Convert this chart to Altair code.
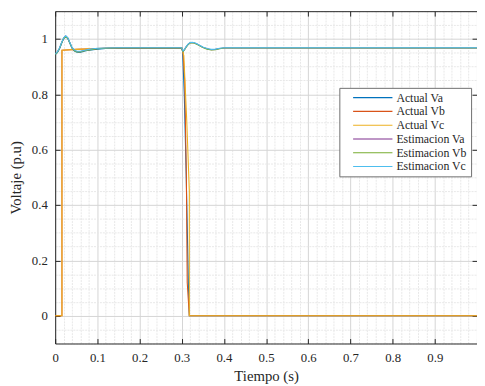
import altair as alt
import pandas as pd

# ---- data ----
names = ["Actual Va", "Actual Vb", "Actual Vc",
         "Estimacion Va", "Estimacion Vb", "Estimacion Vc"]
colors = ["#0072BD", "#D95319", "#EDB120", "#7E2F8E", "#77AC30", "#4DBEEE"]

est_t = [0, 0.005, 0.01, 0.015, 0.02, 0.025, 0.03, 0.035, 0.04, 0.045, 0.05,
         0.055, 0.06, 0.065, 0.07, 0.08, 0.09, 0.1, 0.12, 0.15, 0.2, 0.25, 0.3,
         0.303, 0.306, 0.31, 0.315, 0.32, 0.325, 0.33, 0.335, 0.34, 0.35, 0.36,
         0.37, 0.38, 0.39, 0.4, 0.5, 0.7, 1.0]
est_va = [0.945, 0.952, 0.965, 0.985, 1.003, 1.010, 1.003, 0.985, 0.968, 0.959,
          0.955, 0.954, 0.954, 0.956, 0.958, 0.961, 0.963, 0.965, 0.966, 0.967,
          0.967, 0.967, 0.967, 0.955, 0.960, 0.970, 0.980, 0.986, 0.987, 0.985,
          0.982, 0.978, 0.970, 0.964, 0.961, 0.962, 0.965, 0.967, 0.967, 0.967,
          0.967]
est_vb = [0.944, 0.951, 0.964, 0.984, 1.002, 1.009, 1.002, 0.984, 0.967, 0.958,
          0.954, 0.953, 0.953, 0.955, 0.957, 0.960, 0.962, 0.964, 0.966, 0.967,
          0.967, 0.967, 0.967, 0.954, 0.959, 0.969, 0.979, 0.985, 0.986, 0.984,
          0.981, 0.977, 0.969, 0.963, 0.960, 0.961, 0.964, 0.967, 0.967, 0.967,
          0.967]
est_vc = [0.946, 0.953, 0.966, 0.986, 1.004, 1.011, 1.004, 0.986, 0.969, 0.960,
          0.956, 0.955, 0.955, 0.957, 0.959, 0.962, 0.964, 0.966, 0.967, 0.968,
          0.968, 0.968, 0.968, 0.956, 0.961, 0.971, 0.981, 0.987, 0.988, 0.986,
          0.983, 0.979, 0.971, 0.965, 0.962, 0.963, 0.966, 0.968, 0.968, 0.968,
          0.968]

act_va_t = [0, 0.005, 0.01, 0.015, 0.02, 0.025, 0.03, 0.035, 0.04, 0.045, 0.05,
            0.055, 0.06, 0.065, 0.07, 0.08, 0.09, 0.1, 0.12, 0.15, 0.2, 0.25,
            0.3, 0.302, 0.306, 0.31, 0.314, 0.316, 0.318, 1.0]
act_va = [0.943, 0.950, 0.963, 0.983, 1.001, 1.008, 1.001, 0.983, 0.966, 0.957,
          0.953, 0.952, 0.952, 0.954, 0.956, 0.959, 0.961, 0.963, 0.965, 0.966,
          0.966, 0.966, 0.966, 0.955, 0.80, 0.55, 0.25, 0.10, 0.0, 0.0]

act_vb_t = [0, 0.016, 0.016, 0.05, 0.1, 0.15, 0.3, 0.303, 0.307, 0.311, 0.313,
            0.318, 1.0]
act_vb = [0, 0, 0.959, 0.962, 0.965, 0.967, 0.967, 0.95, 0.85, 0.50, 0.12, 0, 0]

act_vc_t = [0, 0.016, 0.016, 0.05, 0.1, 0.15, 0.3, 0.305, 0.312, 0.318, 0.318,
            1.0]
act_vc = [0, 0, 0.959, 0.962, 0.965, 0.967, 0.967, 0.94, 0.70, 0.45, 0, 0]

series_t = [act_va_t, act_vb_t, act_vc_t, est_t, est_t, est_t]
series_v = [act_va, act_vb, act_vc, est_va, est_vb, est_vc]

x_grid_vals = [round(i * 0.02, 2) for i in range(51)]
y_grid_vals = [round(-0.1 + i * 0.05, 2) for i in range(25)]
x_tick_vals = [round(i * 0.1, 1) for i in range(11)]
y_tick_vals = [round(i * 0.2, 1) for i in range(6)]

rows = []
for k, (name, ts, vs) in enumerate(zip(names, series_t, series_v)):
    for i, (t, v) in enumerate(zip(ts, vs)):
        rows.append({"t": t, "v": v, "serie": name, "i": i, "k": k})
df = pd.DataFrame(rows)

W, H = 429, 338
FONT = "Liberation Serif, Times New Roman, serif"
AX = "#262626"

xs = alt.Scale(domain=[0, 1], nice=False, zero=False)
ys = alt.Scale(domain=[-0.1, 1.1], nice=False, zero=False)

x_major = "abs(datum.value*10 - round(datum.value*10)) < 1e-6"
y_major = "abs(datum.value*5 - round(datum.value*5)) < 1e-6"

x_axis_main = alt.Axis(
    values=x_grid_vals, grid=True, ticks=False, domain=True, domainColor=AX,
    gridColor={"condition": {"test": x_major, "value": "#d4d4d4"}, "value": "#e8e8e8"},
    gridDash={"condition": {"test": x_major, "value": []}, "value": [2, 1]},
    labelExpr=f"({x_major}) && datum.value < 0.95 ? format(datum.value, '~g') : ''",
    labelFlush=False, labelPadding=8, labelFont=FONT, labelFontSize=13,
    labelColor=AX, labelOverlap=False,
    title="Tiempo (s)", titleFont=FONT, titleFontSize=15, titleFontWeight="normal",
    titleColor=AX, titlePadding=5)
y_axis_main = alt.Axis(
    values=y_grid_vals, grid=True, ticks=False, domain=True, domainColor=AX,
    gridColor={"condition": {"test": y_major, "value": "#d4d4d4"}, "value": "#e8e8e8"},
    gridDash={"condition": {"test": y_major, "value": []}, "value": [2, 1]},
    labelExpr=f"({y_major}) && datum.value > -0.05 ? format(datum.value, '~g') : ''",
    labelFlush=False, labelPadding=8, labelFont=FONT, labelFontSize=13,
    labelColor=AX, labelOverlap=False,
    title="Voltaje (p.u)", titleFont=FONT, titleFontSize=15, titleFontWeight="normal",
    titleColor=AX, titlePadding=8)

legend = alt.Legend(
    orient="none", legendX=289, legendY=78, title=None,
    symbolType="stroke", symbolSize=1600, symbolStrokeWidth=1.2, clipHeight=12,
    labelFont=FONT, labelFontSize=12, labelColor=AX, labelAlign="left",
    labelOffset=3, padding=4, symbolOffset=9, rowPadding=2,
    labelExpr="datum.label + '\u2003'",
    fillColor="white", strokeColor="#6e6e6e")

color_enc = alt.Color("serie:N", scale=alt.Scale(domain=names, range=colors),
                      sort=names, legend=legend)

layers = []
for idx, name in enumerate(names):
    layers.append(
        alt.Chart(df).transform_filter(alt.datum.serie == name)
        .mark_line(strokeWidth=1.1, clip=True).encode(
            x=alt.X("t:Q", scale=xs, axis=x_axis_main if idx == 0 else None),
            y=alt.Y("v:Q", scale=ys, axis=y_axis_main if idx == 0 else None),
            color=color_enc,
            order="i:Q",
        )
    )

# inward tick marks: bottom (pointing up) and left (pointing right)
ticks_in = alt.Chart(df).mark_line(opacity=0).encode(
    x=alt.X("t:Q", scale=xs, axis=alt.Axis(
        orient="top", offset=-H, values=x_tick_vals, labels=False, grid=False,
        domain=False, ticks=True, tickSize=5, tickColor=AX, title=None)),
    y=alt.Y("v:Q", scale=ys, axis=alt.Axis(
        orient="right", offset=-W, values=y_tick_vals, labels=False, grid=False,
        domain=False, ticks=True, tickSize=5, tickColor=AX, title=None)),
)
# top frame ticks (pointing down) and right frame ticks (pointing left)
ticks_out = alt.Chart(df).mark_line(opacity=0).encode(
    x=alt.X("t:Q", scale=xs, axis=alt.Axis(
        orient="bottom", offset=-H, values=x_tick_vals, labels=False, grid=False,
        domain=True, domainColor=AX, ticks=True, tickSize=5, tickColor=AX,
        title=None)),
    y=alt.Y("v:Q", scale=ys, axis=alt.Axis(
        orient="left", offset=-W, values=y_tick_vals, labels=False, grid=False,
        domain=True, domainColor=AX, ticks=True, tickSize=5, tickColor=AX,
        title=None)),
)

chart = alt.layer(*layers, ticks_in, ticks_out).resolve_axis(
    x="independent", y="independent"
).properties(
    width=W, height=H,
    autosize=alt.AutoSizeParams(type="none"),
    padding={"left": 48, "top": 0, "right": 0, "bottom": 40},
    background="white",
).configure_view(stroke=None)

chart.save("out.html", embed_options={"renderer": "svg", "actions": False})
